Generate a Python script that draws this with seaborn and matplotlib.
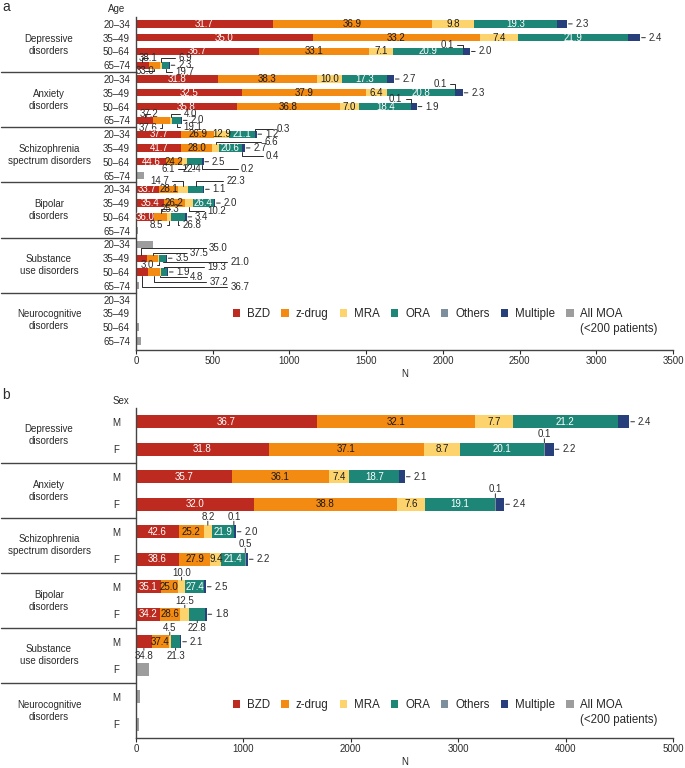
import numpy as np
import matplotlib
matplotlib.use('Agg')
import matplotlib.pyplot as plt
import matplotlib.transforms as mtransforms
from matplotlib.patches import Patch
import seaborn as sns

sns.set_theme(style='ticks')
plt.rcParams['font.family'] = ['Liberation Sans', 'DejaVu Sans']

# mechanisms of action, in stacking order
moa = ['BZD', 'z-drug', 'MRA', 'ORA', 'Others', 'Multiple']
moa_colors = ['#BC2A20', '#F38A12', '#FDD36E', '#1E8676', '#7D8E9C', '#27407B']
label_colors = ['white', '#1a1a1a', '#1a1a1a', 'white', '#1a1a1a', '#1a1a1a']
all_moa_color = '#9D9D9D'
ink = '#2b2b2b'

disorders = ['Depressive\ndisorders', 'Anxiety\ndisorders',
             'Schizophrenia\nspectrum disorders', 'Bipolar\ndisorders',
             'Substance\nuse disorders', 'Neurocognitive\ndisorders']
ages = ['20–34', '35–49', '50–64', '65–74']
sexes = ['M', 'F']

# panel a: patients per bar (disorder by disorder, young to old)
n_age = [2810, 3290, 2180, 220,
         1680, 2130, 1830, 300,
         785, 710, 440, 52,
         445, 515, 330, 15,
         113, 202, 209, 22,
         2, 5, 22, 31]

# % of patients per MOA; None = <200 patients, drawn as "All MOA"
pct_depressive_age = [[31.7, 36.9, 9.8, 19.3, 0.0, 2.3],
                      [35.0, 33.2, 7.4, 21.9, 0.0, 2.4],
                      [36.7, 33.1, 7.1, 20.9, 0.1, 2.0],
                      [38.1, 33.0, 6.9, 19.7, 0.0, 2.3]]
pct_anxiety_age = [[31.8, 38.3, 10.0, 17.3, 0.0, 2.7],
                   [32.5, 37.9, 6.4, 20.8, 0.1, 2.3],
                   [35.8, 36.8, 7.0, 18.4, 0.1, 1.9],
                   [37.2, 37.6, 4.0, 19.1, 0.0, 2.0]]
pct_schizo_age = [[37.7, 26.9, 12.9, 21.1, 0.3, 1.2],
                  [41.7, 28.0, 6.6, 20.6, 0.4, 2.7],
                  [44.6, 24.2, 6.1, 22.4, 0.2, 2.5],
                  None]
pct_bipolar_age = [[33.7, 28.1, 14.7, 22.3, 0.0, 1.1],
                   [35.4, 26.2, 10.2, 26.4, 0.0, 2.0],
                   [36.0, 25.3, 8.5, 26.8, 0.0, 3.4],
                   None]
pct_substance_age = [None,
                     [35.0, 37.5, 3.0, 21.0, 0.0, 3.5],
                     [36.7, 37.2, 4.8, 19.3, 0.0, 1.9],
                     None]
pct_neuro_age = [None, None, None, None]

# panel b: patients per bar (M then F for each disorder)
n_sex = [4590, 3890, 2505, 3430, 930, 1043, 652, 658, 422, 123, 35, 28]
pct_depressive_sex = [[36.7, 32.1, 7.7, 21.2, 0.0, 2.4],
                      [31.8, 37.1, 8.7, 20.1, 0.1, 2.2]]
pct_anxiety_sex = [[35.7, 36.1, 7.4, 18.7, 0.0, 2.1],
                   [32.0, 38.8, 7.6, 19.1, 0.1, 2.4]]
pct_schizo_sex = [[42.6, 25.2, 8.2, 21.9, 0.1, 2.0],
                  [38.6, 27.9, 9.4, 21.4, 0.5, 2.2]]
pct_bipolar_sex = [[35.1, 25.0, 10.0, 27.4, 0.0, 2.5],
                   [34.2, 28.6, 12.5, 22.8, 0.0, 1.8]]
pct_substance_sex = [[34.8, 37.4, 4.5, 21.3, 0.0, 2.1], None]
pct_neuro_sex = [None, None]

pct_age = (pct_depressive_age + pct_anxiety_age + pct_schizo_age
           + pct_bipolar_age + pct_substance_age + pct_neuro_age)
pct_sex = (pct_depressive_sex + pct_anxiety_sex + pct_schizo_sex
           + pct_bipolar_sex + pct_substance_sex + pct_neuro_sex)

# labels that sit outside their segment: (row, moa index) -> offset of text in px
# from segment centre (dx) and from row centre (dy, + = below)
callouts_age = {
    (2, 4): (-16, -6.7),
    (3, 0): (6, -7.7), (3, 1): (-9, 6), (3, 2): (24, -7.7), (3, 3): (19, 7),
    (5, 4): (-15, -9),
    (6, 4): (-15.5, -7.4),
    (7, 0): (5, -6.7), (7, 1): (-14, 7.7), (7, 2): (19, -6.7), (7, 3): (16, 6.7),
    (8, 4): (28, -5.6),
    (9, 2): (56, -5.5), (9, 4): (31, 8),
    (10, 2): (-16.5, 7.3), (10, 3): (-2, 7.3), (10, 4): (46, 7.3),
    (12, 2): (-24, -8.6), (12, 3): (40, -8.6),
    (13, 2): (28, 8.4),
    (14, 1): (9.5, -7.7), (14, 2): (-12.5, 8.3), (14, 3): (13.7, 8.3),
    (17, 0): (77, -10), (17, 1): (46, -5), (17, 2): (-12, 6.7), (17, 3): (77, 4),
    (18, 0): (98, 15), (18, 1): (65, 10), (18, 2): (36, 5), (18, 3): (52, -5),
}
callouts_sex = {
    (1, 4): (0, -15), (3, 4): (0, -15),
    (4, 2): (0, -15), (4, 4): (0, -15), (5, 4): (0, -15.5),
    (6, 2): (0, -14), (7, 2): (0, -13.5), (7, 3): (0, 14),
    (8, 0): (0, 14), (8, 2): (0, -14), (8, 3): (0, 14),
}

W, H = 685, 768
fig = plt.figure(figsize=(W / 100, H / 100), dpi=100)
ax_a = fig.add_axes([136 / W, 1 - 350 / H, 537 / W, 333 / H])
ax_b = fig.add_axes([136 / W, 1 - 738 / H, 537 / W, 330 / H])


def draw_panel(ax, n, pct, ticklabels, bar_h, ymax, xmax, step, callouts, tick_pad):
    per_group = len(ticklabels)
    ids = ['r%d' % i for i in range(len(n))]
    left = np.zeros(len(n))
    for k in range(len(moa)):
        w = np.array([v * p[k] / 100 if p is not None else 0.0 for v, p in zip(n, pct)])
        sns.barplot(x=w, y=ids, order=ids, orient='y', color=moa_colors[k],
                    saturation=1, width=bar_h, errorbar=None, left=left,
                    linewidth=0, ax=ax)
        left = left + w
    small = np.array([v if p is None else 0.0 for v, p in zip(n, pct)])
    sns.barplot(x=small, y=ids, order=ids, orient='y', color=all_moa_color,
                saturation=1, width=bar_h, errorbar=None, linewidth=0, ax=ax)

    ax.set_xlim(0, xmax)
    ax.set_ylim(ymax, -0.5)
    ax.set_xticks(np.arange(0, xmax + 1, step))
    ax.set_yticks(range(len(n)))
    ax.set_yticklabels(ticklabels * len(disorders))
    ax.set_ylabel('')
    ax.set_xlabel('N', fontsize=7, labelpad=2)
    ax.tick_params(axis='y', length=0, pad=tick_pad, labelsize=7, colors=ink)
    ax.tick_params(axis='x', length=3, width=0.8, pad=1.5, labelsize=7, colors=ink)
    sns.despine(ax=ax)
    for s in ['left', 'bottom']:
        ax.spines[s].set_color('#444444')
        ax.spines[s].set_linewidth(1.0)

    row_px = ax.get_position().height * H / (ymax + 0.5)
    half_px = bar_h / 2 * row_px

    for i, (v, p) in enumerate(zip(n, pct)):
        if p is None:
            continue
        x0 = 0.0
        for k, val in enumerate(p):
            w = v * val / 100
            mid = x0 + w / 2
            x0 += w
            if val == 0:
                continue
            txt = f'{val:.1f}'
            if k == 5:
                ax.annotate(txt, xy=(x0, i), xytext=(6, 0), textcoords='offset points',
                            ha='left', va='center', fontsize=7, color=ink,
                            arrowprops=dict(arrowstyle='-', color=ink, lw=0.7,
                                            shrinkA=0, shrinkB=1))
            elif (i, k) in callouts:
                dx, dy = callouts[(i, k)]
                side = 1 if dy > 0 else -1
                edge = i + side * bar_h / 2
                oy = dy - side * half_px
                if dx == 0:
                    # straight tick between bar and label
                    ax.annotate(txt, xy=(mid, edge), xytext=(0, -oy * 0.72),
                                textcoords='offset points', ha='center', va='center',
                                fontsize=7, color=ink, annotation_clip=False)
                    gap = 4.5 if side < 0 else 5.5
                    tick = max(abs(dy) - half_px - gap, 1.5)
                    ax.annotate('', xy=(mid, edge), xytext=(0, -side * tick * 0.72),
                                textcoords='offset points', annotation_clip=False,
                                arrowprops=dict(arrowstyle='-', color=ink, lw=0.7,
                                                shrinkA=0, shrinkB=0))
                else:
                    ax.annotate(txt, xy=(mid, edge), xytext=(dx * 0.72, -oy * 0.72),
                                textcoords='offset points', ha='center', va='center',
                                fontsize=7, color=ink, annotation_clip=False,
                                arrowprops=dict(arrowstyle='-', color=ink, lw=0.7,
                                                shrinkA=0, shrinkB=0,
                                                connectionstyle='angle,angleA=0,angleB=90,rad=0'))
            else:
                ax.text(mid, i, txt, ha='center', va='center', fontsize=7,
                        color=label_colors[k])

    # disorder blocks on the left
    trans = mtransforms.blended_transform_factory(ax.transAxes, ax.transData)
    for g in range(1, len(disorders)):
        y = g * per_group - 0.5
        ax.plot([-0.252, 0], [y, y], color='#444444', lw=1.0, transform=trans,
                clip_on=False)
    for g, name in enumerate(disorders):
        ax.text(-0.162, g * per_group + (per_group - 1) / 2, name, transform=trans,
                ha='center', va='center', fontsize=7, linespacing=1.25, color=ink)


draw_panel(ax_a, n_age, pct_age, ages, 0.53, 23.66, 3500, 500, callouts_age, 4.3)
draw_panel(ax_b, n_sex, pct_sex, sexes, 0.48, 11.5, 5000, 1000, callouts_sex, 14)
for t in ax_b.get_yticklabels():
    t.set_ha('center')

fig.text(117 / W, 1 - 9.5 / H, 'Age', ha='center', va='center', fontsize=7, color=ink)
fig.text(120.5 / W, 1 - 400.5 / H, 'Sex', ha='center', va='center', fontsize=7, color=ink)
fig.text(2 / W, 1 - 7 / H, 'a', ha='left', va='center', fontsize=10, color=ink)
fig.text(2 / W, 1 - 395 / H, 'b', ha='left', va='center', fontsize=10, color=ink)

handles = [Patch(facecolor=c, edgecolor='none') for c in moa_colors + [all_moa_color]]
legends = []
for y_px in [314, 705]:
    leg = fig.legend(handles, moa + ['All MOA'], loc='center left',
                     bbox_to_anchor=(233 / W, 1 - y_px / H), ncol=7, frameon=False,
                     fontsize=8.3, handlelength=0.65, handleheight=0.65,
                     handletextpad=0.6, columnspacing=0.95, borderpad=0,
                     borderaxespad=0)
    legends.append(leg)

fig.canvas.draw()
renderer = fig.canvas.get_renderer()
for leg in legends:
    bb = leg.get_texts()[-1].get_window_extent(renderer)
    fig.text(bb.x0 / W, ((bb.y0 + bb.y1) / 2 - 15) / H, '(<200 patients)',
             ha='left', va='center', fontsize=8.3, color=ink)

fig.savefig('out.png', dpi=100)
